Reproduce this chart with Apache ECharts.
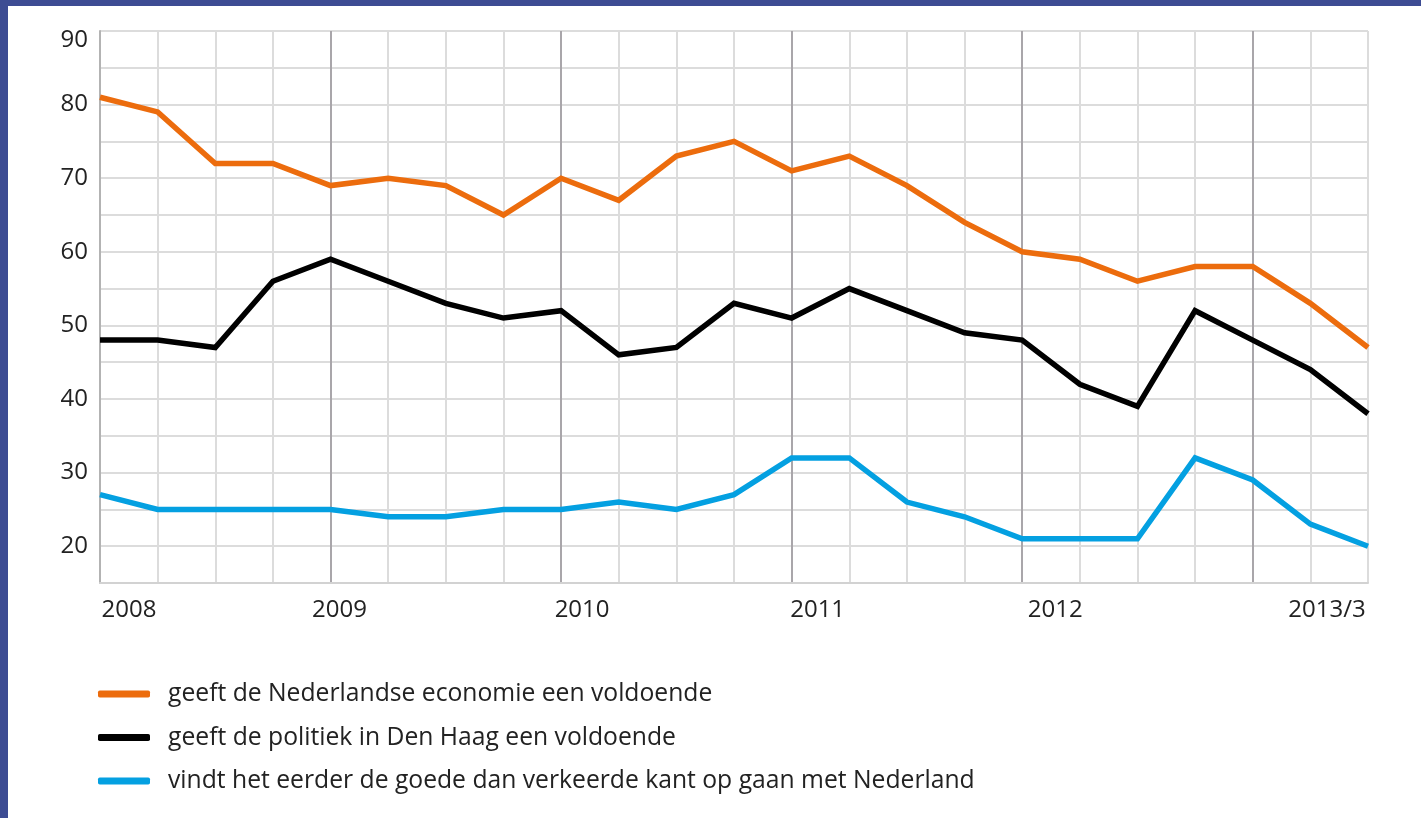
<!DOCTYPE html>
<html>
<head>
<meta charset="utf-8">
<title>Oordeel economie en politiek</title>
<script src="https://cdn.jsdelivr.net/npm/echarts@6/dist/echarts.min.js"></script>
<style>
  html, body { margin: 0; padding: 0; width: 1421px; height: 818px; overflow: hidden; background: #3d4c93; }
  #chart { position: absolute; left: 8px; top: 6px; width: 1413px; height: 812px; background: #fff; }
</style>
</head>
<body>
<div id="chart"></div>
<script>
// kwartalen 2008/1 t/m 2013/3
const quarters = [
  '2008/1', '2008/2', '2008/3', '2008/4',
  '2009/1', '2009/2', '2009/3', '2009/4',
  '2010/1', '2010/2', '2010/3', '2010/4',
  '2011/1', '2011/2', '2011/3', '2011/4',
  '2012/1', '2012/2', '2012/3', '2012/4',
  '2013/1', '2013/2', '2013/3'
];
const tickLabels = [
  '2008', '', '', '', '2009', '', '', '', '2010', '', '', '',
  '2011', '', '', '', '2012', '', '', '', '', '', '2013/3'
];

const economie = [81, 79, 72, 72, 69, 70, 69, 65, 70, 67, 73, 75, 71, 73, 69, 64, 60, 59, 56, 58, 58, 53, 47];
const politiek = [48, 48, 47, 56, 59, 56, 53, 51, 52, 46, 47, 53, 51, 55, 52, 49, 48, 42, 39, 52, 48, 44, 38];
const richting = [27, 25, 25, 25, 25, 24, 24, 25, 25, 26, 25, 27, 32, 32, 26, 24, 21, 21, 21, 32, 29, 23, 20];

const seriesNames = [
  'geeft de Nederlandse economie een voldoende',
  'geeft de politiek in Den Haag een voldoende',
  'vindt het eerder de goede dan verkeerde kant op gaan met Nederland'
];

const yMin = 15;
const yMax = 90;
const yStep = 5;

const font = '"Open Sans", "Noto Sans", sans-serif';
const textColor = '#222';
const colors = ['#ec6c0d', '#000000', '#04a0e1'];

// verschuiving van de jaarlabels t.o.v. hun gridlijn (px)
const labelShift = { '2008': 29, '2009': 9, '2010': 21, '2011': 26, '2012': 33, '2013/3': -41 };
const shiftKeys = Object.keys(labelShift);

const chart = echarts.init(document.getElementById('chart'));

const xRich = {};
shiftKeys.forEach((k, i) => {
  const s = labelShift[k];
  xRich['l' + i] = {
    fontFamily: font,
    fontSize: 24,
    color: textColor,
    padding: s >= 0 ? [0, 0, 0, 2 * s] : [0, -2 * s, 0, 0],
  };
});

const option = {
  animation: false,
  textStyle: { fontFamily: font },
  grid: {
    left: 92,
    right: 53,
    top: 25,
    bottom: 235,
    containLabel: false,
  },
  xAxis: {
    type: 'category',
    data: quarters,
    boundaryGap: false,
    axisLine: { show: true, lineStyle: { color: '#d2d2d2', width: 2 } },
    axisTick: { show: false },
    axisLabel: {
      interval: (index) => tickLabels[index] !== '',
      margin: 15,
      fontFamily: font,
      fontSize: 24,
      color: textColor,
      formatter: (value, index) => {
        const t = tickLabels[index];
        return '{l' + shiftKeys.indexOf(t) + '|' + t + '}';
      },
      rich: xRich,
    },
    splitLine: {
      show: true,
      interval: 0,
      lineStyle: {
        color: ['#a9a6aa', '#dcdcdc', '#dcdcdc', '#dcdcdc'],
        width: 2,
      },
    },
  },
  yAxis: {
    type: 'value',
    min: yMin,
    max: yMax,
    interval: yStep,
    axisLine: { show: true, lineStyle: { color: '#b3b3b3', width: 2 } },
    axisTick: { show: false },
    axisLabel: {
      margin: 12,
      fontFamily: font,
      fontSize: 24,
      color: textColor,
      formatter: (v) => {
        if (v % 10 !== 0 || v < 20) return '';
        return v === yMax ? '{top|' + v + '}' : String(v);
      },
      rich: {
        top: { fontFamily: font, fontSize: 24, color: textColor, padding: [18, 0, 0, 0] },
      },
    },
    splitLine: {
      show: true,
      lineStyle: { color: '#dcdcdc', width: 2 },
    },
  },
  legend: {
    orient: 'vertical',
    left: 90,
    top: 675,
    padding: 0,
    icon: 'roundRect',
    itemWidth: 52,
    itemHeight: 7,
    itemGap: 17.5,
    data: seriesNames,
    textStyle: {
      fontFamily: font,
      fontSize: 24.7,
      lineHeight: 26,
      color: textColor,
      padding: [0, 0, 0, 13],
    },
  },
  series: [economie, politiek, richting].map((d, i) => ({
    name: seriesNames[i],
    type: 'line',
    data: d,
    symbol: 'none',
    color: colors[i],
    lineStyle: { color: colors[i], width: 5.5, join: 'miter' },
    emphasis: { disabled: true },
  })),
};

chart.setOption(option);
</script>
</body>
</html>
